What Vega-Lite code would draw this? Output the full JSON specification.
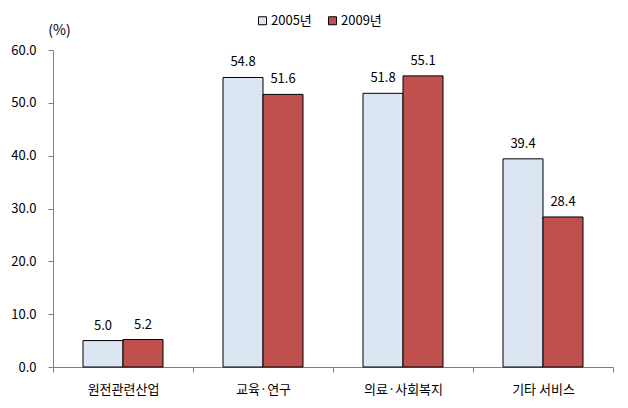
{
  "$schema": "https://vega.github.io/schema/vega-lite/v6.json",
  "autosize": "none",
  "width": 560,
  "height": 317,
  "padding": {"left": 53, "top": 50, "right": 15, "bottom": 41},
  "background": "white",
  "config": {
    "view": {"stroke": null},
    "font": "Noto Sans CJK KR",
    "axis": {"labelFont": "Noto Sans CJK KR", "titleFont": "Noto Sans CJK KR", "labelColor": "black", "domainColor": "#808080", "tickColor": "#808080"},
    "legend": {"labelFont": "Noto Sans CJK KR"}
  },
  "data": {
    "values": [
      {"cat": "원전관련산업", "year": "2005년", "v": 5.0},
      {"cat": "원전관련산업", "year": "2009년", "v": 5.2},
      {"cat": "교육·연구", "year": "2005년", "v": 54.8},
      {"cat": "교육·연구", "year": "2009년", "v": 51.6},
      {"cat": "의료·사회복지", "year": "2005년", "v": 51.8},
      {"cat": "의료·사회복지", "year": "2009년", "v": 55.1},
      {"cat": "기타 서비스", "year": "2005년", "v": 39.4},
      {"cat": "기타 서비스", "year": "2009년", "v": 28.4}
    ]
  },
  "encoding": {
    "x": {
      "field": "cat", "type": "nominal", "sort": null,
      "scale": {"paddingInner": 0, "paddingOuter": 0},
      "axis": {"title": null, "labelAngle": 0, "labelFontSize": 13, "labelPadding": 11, "tickBand": "extent", "tickSize": 5, "domainColor": "#808080", "tickColor": "#808080"}
    },
    "xOffset": {"field": "year", "type": "nominal", "scale": {"paddingInner": 0, "paddingOuter": 0.75}},
    "y": {
      "field": "v", "type": "quantitative",
      "scale": {"domain": [0, 60], "nice": false},
      "axis": {"values": [0, 10, 20, 30, 40, 50, 60], "format": ".1f", "grid": false, "labelFontSize": 13, "labelPadding": 12, "tickSize": 5,
        "title": "(%)", "titleAngle": 0, "titleAlign": "center", "titleBaseline": "alphabetic", "titleX": 6, "titleY": -16, "titleFontSize": 14, "titleFontWeight": "normal"}
    }
  },
  "layer": [
    {
      "mark": {"type": "bar", "stroke": "black", "strokeWidth": 1},
      "encoding": {
        "color": {
          "field": "year", "type": "nominal",
          "scale": {"domain": ["2005년", "2009년"], "range": ["#DCE6F2", "#C0504D"]},
          "legend": {"title": null, "orient": "none", "direction": "horizontal", "legendX": 203, "legendY": -36, "symbolType": "square", "symbolSize": 64, "symbolStrokeColor": "black", "symbolStrokeWidth": 1, "labelFontSize": 13, "labelOffset": 2, "columnPadding": 14}
        }
      }
    },
    {
      "mark": {"type": "text", "baseline": "bottom", "dy": -8, "fontSize": 13, "color": "black"},
      "encoding": {"text": {"field": "v", "type": "quantitative", "format": ".1f"}}
    }
  ]
}
